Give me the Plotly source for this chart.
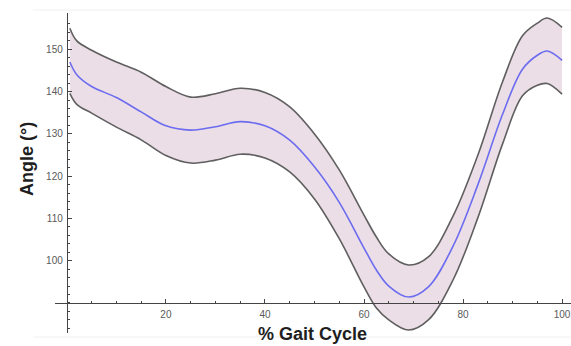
import numpy as np
import plotly.graph_objects as go

# Gait-cycle knee angle: mean curve with upper / lower SD envelope
gait_pct = [0.6, 2, 5, 10, 15, 20, 25, 30, 35, 40, 45, 50, 55, 60, 62.5, 65, 69, 73, 78, 83, 88, 92, 95, 97, 100]
angle_mean = [147.0, 144.0, 141.2, 138.6, 135.2, 131.9, 130.9, 131.7, 132.9, 131.9, 128.5, 122.2,
              113.8, 103.0, 97.8, 94.0, 91.4, 93.8, 103.5, 118.0, 134.7, 145.3, 148.6, 149.6, 147.4]
angle_upper = [155.0, 152.0, 149.8, 147.0, 144.6, 141.2, 138.7, 139.5, 140.8, 139.8, 136.4, 130.0,
               121.5, 110.8, 105.6, 101.6, 99.0, 100.9, 110.6, 125.0, 142.4, 153.2, 156.2, 157.4, 155.2]
angle_lower = [139.6, 137.0, 134.9, 131.6, 128.6, 124.9, 123.1, 123.8, 125.2, 124.3, 121.0, 114.6,
               105.2, 93.8, 88.8, 86.0, 83.6, 86.0, 95.5, 110.2, 127.7, 139.0, 141.5, 141.9, 139.4]

x_ticks = [20, 40, 60, 80, 100]
y_ticks = [100, 110, 120, 130, 140, 150]

X_RANGE = [-2.4, 101.8]
Y_RANGE = [82.9, 158.6]
X_CROSS = 0     # y-axis drawn at x = 0
Y_CROSS = 90    # x-axis drawn at y = 90

band_line = dict(color="#5f5f5f", width=1.6, shape="spline", smoothing=1.0)

fig = go.Figure()
fig.add_trace(go.Scatter(x=gait_pct, y=angle_lower, mode="lines", line=band_line,
                         showlegend=False, hoverinfo="skip"))
fig.add_trace(go.Scatter(x=gait_pct, y=angle_upper, mode="lines", line=band_line,
                         fill="tonexty", fillcolor="rgba(236,222,230,1)",
                         showlegend=False, hoverinfo="skip"))
fig.add_trace(go.Scatter(x=gait_pct, y=angle_mean, mode="lines",
                         line=dict(color="#6c6cf0", width=1.6, shape="spline", smoothing=1.0),
                         showlegend=False))

x_pos = (Y_CROSS - Y_RANGE[0]) / (Y_RANGE[1] - Y_RANGE[0])
y_pos = (X_CROSS - X_RANGE[0]) / (X_RANGE[1] - X_RANGE[0])

tick_font = dict(family="Liberation Sans", size=10, color="#5a5a5a")

fig.update_layout(
    width=571, height=346,
    margin=dict(l=55, r=0, t=13, b=13),
    paper_bgcolor="white", plot_bgcolor="rgba(0,0,0,0)",
    xaxis=dict(
        range=X_RANGE, anchor="free", position=x_pos,
        showgrid=False, zeroline=False,
        showline=True, linecolor="#444", linewidth=1.2,
        tickmode="array", tickvals=x_ticks, ticktext=[str(v) for v in x_ticks],
        ticks="inside", ticklen=4, tickwidth=1, tickcolor="#444",
        minor=dict(tickmode="array", tickvals=list(np.arange(5, 101, 5)),
                   ticks="inside", ticklen=2, tickcolor="#444"),
        tickfont=tick_font, ticklabelstandoff=2,
    ),
    yaxis=dict(
        range=Y_RANGE, anchor="free", position=y_pos,
        showgrid=False, zeroline=False,
        showline=True, linecolor="#444", linewidth=1.2,
        tickmode="array", tickvals=y_ticks, ticktext=[str(v) for v in y_ticks],
        ticks="inside", ticklen=4, tickwidth=1, tickcolor="#444",
        minor=dict(tickmode="array", tickvals=list(np.arange(84, 158, 2)),
                   ticks="inside", ticklen=2, tickcolor="#444"),
        tickfont=tick_font, ticklabelstandoff=2,
    ),
    annotations=[
        dict(text="<b>Angle (°)</b>", xref="paper", yref="paper",
             x=-55 / 516 + 27 / 516, y=1 - (159 - 13) / 320, textangle=-90,
             showarrow=False, xanchor="center", yanchor="middle",
             font=dict(family="Liberation Sans", size=18, color="#1e1e1e")),
        dict(text="<b>% Gait Cycle</b>", xref="paper", yref="paper",
             x=(312 - 55) / 516, y=1 - (334 - 13) / 320,
             showarrow=False, xanchor="center", yanchor="middle",
             font=dict(family="Liberation Sans", size=18, color="#1e1e1e")),
    ],
    shapes=[
        dict(type="line", xref="paper", yref="paper",
             x0=(33 - 55) / 516, x1=1, y0=1 + 3 / 320, y1=1 + 3 / 320,
             line=dict(color="#f0f0f0", width=1)),
        dict(type="line", xref="paper", yref="paper",
             x0=(33 - 55) / 516, x1=1, y0=-4 / 320, y1=-4 / 320,
             line=dict(color="#f0f0f0", width=1)),
    ],
)

fig.write_html("out.html")
